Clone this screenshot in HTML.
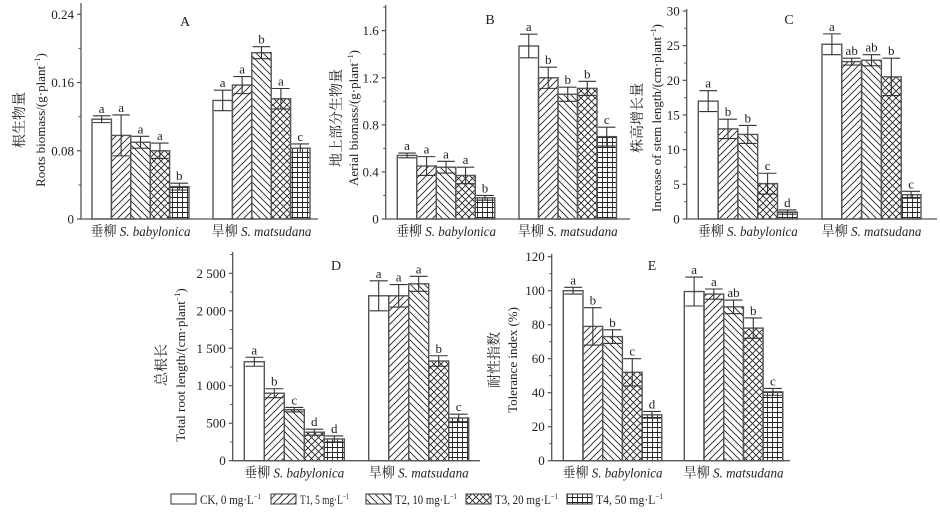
<!DOCTYPE html>
<html><head><meta charset="utf-8"><style>
html,body{margin:0;padding:0;background:#fff;}
svg{display:block;font-family:"Liberation Serif","Noto Serif CJK SC",serif;}
</style></head><body>
<svg id="fig" width="940" height="524" viewBox="0 0 940 524" xmlns="http://www.w3.org/2000/svg">
<defs>
<pattern id="p1" patternUnits="userSpaceOnUse" width="7" height="7"><path d="M-1,8 L8,-1 M-2,2 L2,-2 M5,9 L9,5" stroke="#222" stroke-width="0.9"/></pattern>
<pattern id="p2" patternUnits="userSpaceOnUse" width="7" height="7"><path d="M-1,-1 L8,8 M-2,5 L2,9 M5,-2 L9,2" stroke="#222" stroke-width="0.9"/></pattern>
<pattern id="p3" patternUnits="userSpaceOnUse" width="7" height="7"><path d="M-1,-1 L8,8 M-1,8 L8,-1" stroke="#222" stroke-width="0.9"/></pattern>
<pattern id="p4" patternUnits="userSpaceOnUse" width="5" height="5"><path d="M0,2.5 H5 M2.5,0 V5" stroke="#222" stroke-width="0.9"/></pattern>
</defs>
<g id="root"></g>
</svg>
<script>
// ---- data ----
const groups = ["垂柳 S. babylonica", "旱柳 S. matsudana"];
const treatments = ["CK, 0 mg·L", "T1, 5 mg·L", "T2, 10 mg·L", "T3, 20 mg·L", "T4, 50 mg·L"];
const aVals = [[0.117,0.098,0.090,0.080,0.038],[0.139,0.157,0.195,0.141,0.083]];
const aErr  = [[0.004,0.024,0.007,0.009,0.004],[0.012,0.010,0.007,0.012,0.005]];
const aLet  = [["a","a","a","a","b"],["a","a","b","a","c"]];
const aTicks = [0,0.08,0.16,0.24];
const aTickLabels = ["0","0.08","0.16","0.24"];
const bVals = [[0.54,0.45,0.44,0.37,0.18],[1.47,1.20,1.06,1.11,0.70]];
const bErr  = [[0.02,0.08,0.05,0.07,0.02],[0.10,0.09,0.06,0.06,0.08]];
const bLet  = [["a","a","a","a","b"],["a","b","b","b","c"]];
const bTicks = [0,0.4,0.8,1.2,1.6];
const bTickLabels = ["0","0.4","0.8","1.2","1.6"];
const cVals = [[17.0,13.0,12.2,5.1,1.0],[25.2,22.7,22.9,20.5,3.5]];
const cErr  = [[1.5,1.4,1.3,1.5,0.3],[1.5,0.5,0.8,2.7,0.5]];
const cLet  = [["a","b","b","c","d"],["a","ab","ab","b","c"]];
const cTicks = [0,5,10,15,20,25,30];
const cTickLabels = ["0","5","10","15","20","25","30"];
const dVals = [[1320,900,680,380,290],[2200,2200,2360,1330,570]];
const dErr  = [[60,60,30,40,40],[200,150,100,70,50]];
const dLet  = [["a","b","c","d","d"],["a","a","a","b","c"]];
const dTicks = [0,500,1000,1500,2000,2500];
const dTickLabels = ["0","500","1 000","1 500","2 000","2 500"];
const eVals = [[100,79,73,52,27],[99.5,98,90.5,78,40.5]];
const eErr  = [[2,11,4,8,2],[8.5,3,4,6,2]];
const eLet  = [["a","b","b","c","d"],["a","a","ab","b","c"]];
const eTicks = [0,20,40,60,80,100,120];
const eTickLabels = ["0","20","40","60","80","100","120"];

const NS="http://www.w3.org/2000/svg";
const root=document.getElementById('root');
function mk(tag,attrs,parent){const e=document.createElementNS(NS,tag);for(const k in attrs)e.setAttribute(k,attrs[k]);(parent||root).appendChild(e);return e;}
const fills=["#fff","url(#p1)","url(#p2)","url(#p3)","url(#p4)"];

function panel(cfg){
  const g=mk('g',{});
  
  
  const maxT=cfg.ticks[cfg.ticks.length-1];
  const y=v=>cfg.y0-(v/maxT)*(cfg.y0-cfg.yMax);
  for(let gi=0;gi<2;gi++){
    for(let i=0;i<5;i++){
      const v=cfg.vals[gi][i], er=cfg.err[gi][i];
      const x=cfg.gx[gi]+i*cfg.bw;
      const r=mk('rect',{x:x,y:y(v),width:cfg.bw,height:cfg.y0-y(v),fill:fills[i],stroke:'#555','stroke-width':1.4},g);
      
      
      const cx=x+cfg.bw/2, hw=cfg.bw*0.45;
      const eb=mk('path',{d:`M${cx},${y(v+er)}V${y(v-er)}M${cx-hw},${y(v+er)}H${cx+hw}M${cx-hw},${y(v-er)}H${cx+hw}`,stroke:'#333','stroke-width':1.1,fill:'none'},g);
      
      
      const t=mk('text',{x:cx,y:y(v+er)-3,'font-size':13,'text-anchor':'middle',fill:'#222'},g);
      t.textContent=cfg.lets[gi][i];
      
      
    }
    const gl=mk('text',{x:cfg.gx[gi]+cfg.bw*2.5-50,y:cfg.y0+17,'font-size':14,fill:'#222',textLength:100,lengthAdjust:'spacingAndGlyphs'},g);
    const parts=groups[gi].split(' ');
    gl.innerHTML=parts[0]+' <tspan font-style="italic">'+parts.slice(1).join(' ')+'</tspan>';
    
    
  }
  const ax=mk('path',{d:`M${cfg.ax},${cfg.top}V${cfg.y0}H${cfg.xEnd}`,stroke:'#555','stroke-width':1.3,fill:'none'},g);
  
  
  cfg.ticks.forEach((tv,k)=>{
    mk('line',{x1:cfg.ax-4,x2:cfg.ax,y1:y(tv),y2:y(tv),stroke:'#555','stroke-width':1.2},g);
    if(k>0){const mv=(tv+cfg.ticks[k-1])/2;mk('line',{x1:cfg.ax-2.5,x2:cfg.ax,y1:y(mv),y2:y(mv),stroke:'#555','stroke-width':1},g);}
    const tl=mk('text',{x:cfg.ax-7,y:y(tv)+4.5,'font-size':13,'text-anchor':'end',fill:'#222'},g);
    tl.textContent=cfg.tl[k];
    
    
  });
  if(cfg.extraMinor){const mv=maxT+(cfg.ticks[1]-cfg.ticks[0])/2; if(y(mv)>cfg.top) mk('line',{x1:cfg.ax-2.5,x2:cfg.ax,y1:y(mv),y2:y(mv),stroke:'#555','stroke-width':1},g);}
  const tt=mk('text',{x:cfg.title[0],y:cfg.title[1],'font-size':14,'text-anchor':'middle',fill:'#222'},g);
  tt.textContent=cfg.id;
  
  
  const yl1=mk('text',{x:0,y:0,'font-size':14,'text-anchor':'middle',fill:'#222',transform:`translate(${cfg.ylx[0]},${cfg.ylc}) rotate(-90)`},g);
  yl1.textContent=cfg.ycn;
  
  
  const yl2=mk('text',{x:0,y:0,'font-size':13,'text-anchor':'middle',fill:'#222',transform:`translate(${cfg.ylx[1]},${cfg.ylc}) rotate(-90)`},g);
  yl2.innerHTML=cfg.yen;
  
  
}
const sup='<tspan font-size="8" dy="-5">−1</tspan><tspan dy="5">)</tspan>';
panel({id:'A',vals:aVals,err:aErr,lets:aLet,ticks:aTicks,tl:aTickLabels,ax:81,y0:219,yMax:14.3,top:3,xEnd:318,gx:[92,213],bw:19.4,title:[185,26],ylx:[24,45],ylc:120,ycn:'根生物量',yen:'Roots biomass/(g·plant'+sup,extraMinor:false});
panel({id:'B',vals:bVals,err:bErr,lets:bLet,ticks:bTicks,tl:bTickLabels,ax:385.7,y0:219,yMax:30.7,top:5,xEnd:630,gx:[397.3,519],bw:19.5,title:[490,24],ylx:[341,358],ylc:118,ycn:'地上部分生物量',yen:'Aerial biomass/(g·plant'+sup,extraMinor:true});
panel({id:'C',vals:cVals,err:cErr,lets:cLet,ticks:cTicks,tl:cTickLabels,ax:686.7,y0:219,yMax:11,top:9,xEnd:937,gx:[698.3,822],bw:19.8,title:[789,24],ylx:[642,661],ylc:118,ycn:'株高增长量',yen:'Increase of stem length/(cm·plant'+sup,extraMinor:false});
panel({id:'D',vals:dVals,err:dErr,lets:dLet,ticks:dTicks,tl:dTickLabels,ax:232.7,y0:460.7,yMax:273.3,top:252,xEnd:480,gx:[244.3,368.7],bw:20,title:[336,270],ylx:[166,185],ylc:365,ycn:'总根长',yen:'Total root length/(cm·plant'+sup,extraMinor:true});
panel({id:'E',vals:eVals,err:eErr,lets:eLet,ticks:eTicks,tl:eTickLabels,ax:551.7,y0:460.7,yMax:256.7,top:254,xEnd:790,gx:[563.3,684.3],bw:19.7,title:[652,270],ylx:[499,517],ylc:360,ycn:'耐性指数',yen:'Tolerance index (%)',extraMinor:false});
// legend
const lx=[171,271,366,466,567];
const lw=[61,49,62,63,67];
treatments.forEach((t,i)=>{
  const r=mk('rect',{x:lx[i],y:494,width:25,height:10,fill:fills[i],stroke:'#444','stroke-width':1.1});
  
  
  const tx=mk('text',{x:lx[i]+29,y:504,'font-size':13,fill:'#222',textLength:lw[i],lengthAdjust:'spacingAndGlyphs'});
  tx.innerHTML=t+'<tspan font-size="8" dy="-5">−1</tspan>';
  
  
});
</script>
</body></html>
